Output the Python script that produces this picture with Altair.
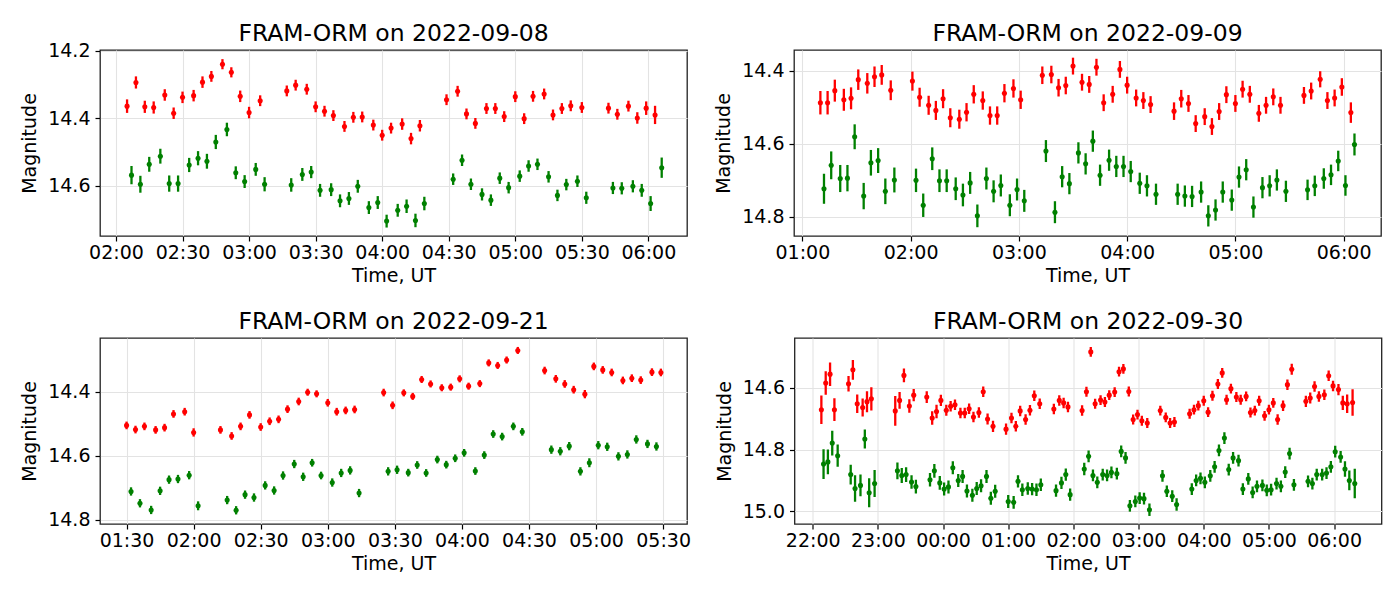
import altair as alt
import pandas as pd

FONT = "DejaVu Sans"
RED = "#ff0000"
GREEN = "#008000"

# ---------------- Panel 1: 2022-09-08 ----------------
p1_red_t = ["02:05","02:09","02:13","02:17","02:22","02:26","02:30","02:35","02:39","02:43","02:48","02:52","02:56","03:00","03:05",
            "03:17","03:21","03:26","03:30","03:34","03:38","03:43","03:47","03:51","03:56","04:00","04:04","04:09","04:13","04:17",
            "04:29","04:34","04:38","04:42","04:47","04:51","04:55","05:00","05:04","05:08","05:13","05:17","05:21","05:25","05:30",
            "05:42","05:46","05:51","05:55","05:59","06:03"]
p1_red_m = [14.364,14.294,14.366,14.368,14.331,14.385,14.338,14.333,14.293,14.276,14.240,14.264,14.335,14.383,14.348,
            14.319,14.302,14.314,14.366,14.379,14.392,14.424,14.397,14.396,14.420,14.450,14.429,14.417,14.460,14.422,
            14.345,14.320,14.387,14.415,14.371,14.371,14.395,14.336,14.401,14.335,14.328,14.390,14.371,14.363,14.368,
            14.370,14.388,14.364,14.399,14.370,14.390]
p1_red_e = [0.020,0.018,0.018,0.018,0.017,0.017,0.017,0.017,0.017,0.016,0.015,0.015,0.017,0.017,0.016,
            0.016,0.016,0.016,0.016,0.016,0.016,0.016,0.016,0.016,0.016,0.016,0.016,0.017,0.017,0.017,
            0.016,0.016,0.016,0.016,0.016,0.016,0.016,0.016,0.016,0.016,0.016,0.016,0.016,0.016,0.016,
            0.016,0.016,0.016,0.017,0.020,0.027]
p1_green_t = ["02:07","02:11","02:15","02:20","02:24","02:28","02:33","02:37","02:41","02:45","02:50","02:54","02:58","03:03","03:07",
              "03:19","03:24","03:28","03:32","03:37","03:41","03:45","03:49","03:54","03:58","04:02","04:07","04:11","04:15","04:19",
              "04:32","04:36","04:40","04:45","04:49","04:53","04:57","05:02","05:06","05:10","05:15","05:19","05:23","05:28","05:32",
              "05:44","05:48","05:53","05:57","06:01","06:06"]
p1_green_m = [14.568,14.595,14.536,14.512,14.593,14.593,14.538,14.518,14.527,14.470,14.433,14.561,14.587,14.551,14.595,
              14.597,14.566,14.559,14.613,14.611,14.644,14.637,14.601,14.664,14.649,14.704,14.672,14.660,14.702,14.652,
              14.580,14.524,14.595,14.625,14.642,14.577,14.605,14.571,14.541,14.536,14.573,14.628,14.596,14.586,14.635,
              14.606,14.607,14.601,14.613,14.652,14.546]
p1_green_e = [0.027,0.025,0.022,0.022,0.024,0.024,0.021,0.021,0.022,0.021,0.020,0.019,0.019,0.019,0.021,
              0.020,0.019,0.018,0.019,0.019,0.019,0.019,0.019,0.019,0.019,0.019,0.019,0.020,0.020,0.020,
              0.017,0.017,0.017,0.018,0.017,0.017,0.017,0.017,0.017,0.017,0.017,0.017,0.017,0.017,0.018,
              0.018,0.018,0.018,0.019,0.022,0.030]

# ---------------- Panel 2: 2022-09-09 ----------------
p2_red_t = ["01:10","01:14","01:18","01:23","01:27","01:31","01:36","01:40","01:44","01:49",
            "02:01","02:05","02:10","02:14","02:18","02:22","02:27","02:31","02:35","02:40","02:44","02:48","02:52","02:57","03:01",
            "03:13","03:18","03:22","03:26","03:30","03:35","03:39","03:43","03:47","03:52","03:56","04:00","04:05","04:09","04:13",
            "04:26","04:30","04:34","04:38","04:43","04:47","04:51","04:55","05:00","05:04","05:08","05:13","05:17","05:21","05:25",
            "05:38","05:42","05:47","05:51","05:55","05:59","06:04"]
p2_red_m = [14.488,14.488,14.455,14.480,14.476,14.425,14.435,14.417,14.412,14.454,
            14.429,14.473,14.495,14.509,14.477,14.529,14.533,14.514,14.465,14.482,14.523,14.523,14.462,14.449,14.480,
            14.413,14.411,14.447,14.441,14.388,14.432,14.438,14.391,14.488,14.465,14.397,14.440,14.475,14.482,14.493,
            14.511,14.477,14.490,14.545,14.526,14.553,14.512,14.466,14.490,14.451,14.465,14.517,14.495,14.472,14.495,
            14.468,14.456,14.424,14.482,14.475,14.445,14.515]
p2_red_e = [0.032,0.032,0.030,0.030,0.030,0.028,0.028,0.028,0.027,0.027,
            0.026,0.026,0.026,0.026,0.026,0.026,0.026,0.025,0.025,0.025,0.025,0.025,0.025,0.025,0.025,
            0.024,0.024,0.024,0.024,0.023,0.023,0.023,0.023,0.023,0.023,0.023,0.023,0.023,0.023,0.023,
            0.024,0.024,0.023,0.023,0.023,0.023,0.023,0.023,0.023,0.023,0.023,0.023,0.023,0.023,0.023,
            0.023,0.023,0.022,0.023,0.023,0.024,0.028]
p2_green_t = ["01:12","01:16","01:21","01:25","01:29","01:34","01:38","01:42","01:46","01:51",
              "02:03","02:07","02:12","02:16","02:20","02:25","02:29","02:33","02:37","02:42","02:46","02:50","02:55","02:59","03:03",
              "03:15","03:20","03:24","03:28","03:33","03:37","03:41","03:45","03:50","03:54","03:58","04:02","04:07","04:11","04:16",
              "04:28","04:32","04:36","04:41","04:45","04:49","04:53","04:58","05:02","05:06","05:10","05:15","05:19","05:23","05:28",
              "05:40","05:44","05:49","05:53","05:57","06:01","06:06"]
p2_green_m = [14.723,14.659,14.695,14.694,14.581,14.743,14.652,14.646,14.730,14.699,
              14.700,14.768,14.641,14.701,14.701,14.723,14.740,14.707,14.797,14.695,14.730,14.714,14.768,14.725,14.756,
              14.620,14.787,14.690,14.709,14.625,14.655,14.593,14.686,14.645,14.662,14.662,14.676,14.708,14.715,14.738,
              14.738,14.743,14.744,14.732,14.797,14.781,14.732,14.754,14.691,14.671,14.773,14.720,14.715,14.699,14.730,
              14.726,14.715,14.695,14.685,14.647,14.714,14.602]
p2_green_e = [0.041,0.038,0.037,0.036,0.034,0.036,0.035,0.034,0.035,0.034,
              0.032,0.032,0.031,0.031,0.031,0.031,0.031,0.030,0.031,0.030,0.030,0.030,0.030,0.030,0.030,
              0.030,0.030,0.029,0.029,0.029,0.029,0.029,0.029,0.029,0.029,0.029,0.029,0.029,0.029,0.029,
              0.029,0.029,0.029,0.029,0.029,0.029,0.029,0.029,0.029,0.029,0.029,0.029,0.029,0.029,0.029,
              0.028,0.028,0.028,0.028,0.028,0.028,0.030]

# ---------------- Panel 3: 2022-09-21 ----------------
p3_red_t = ["01:30","01:34","01:38","01:43","01:47","01:51","01:56","02:00",
            "02:12","02:17","02:21","02:25","02:30","02:34","02:38","02:42","02:47","02:51","02:55","03:00","03:04","03:08","03:12",
            "03:25","03:29","03:34","03:38","03:42","03:46","03:51","03:55","03:59","04:03","04:08","04:12","04:16","04:20","04:25",
            "04:37","04:42","04:46","04:50","04:55","04:59","05:03","05:07","05:12","05:16","05:20","05:25","05:29"]
p3_red_m = [14.505,14.518,14.508,14.519,14.512,14.469,14.462,14.527,
            14.519,14.538,14.508,14.472,14.510,14.492,14.486,14.454,14.430,14.401,14.406,14.434,14.462,14.458,14.455,
            14.402,14.442,14.403,14.414,14.361,14.375,14.387,14.385,14.359,14.382,14.374,14.309,14.317,14.300,14.270,
            14.333,14.359,14.375,14.393,14.407,14.320,14.331,14.339,14.364,14.357,14.363,14.338,14.339]
p3_red_e = [0.012,0.012,0.012,0.012,0.012,0.012,0.012,0.013,
            0.012,0.012,0.012,0.012,0.012,0.012,0.012,0.012,0.012,0.011,0.011,0.012,0.012,0.012,0.012,
            0.012,0.012,0.011,0.011,0.011,0.011,0.011,0.011,0.011,0.011,0.011,0.011,0.011,0.011,0.011,
            0.012,0.012,0.012,0.012,0.013,0.012,0.012,0.012,0.012,0.012,0.012,0.012,0.012]
p3_green_t = ["01:32","01:36","01:41","01:45","01:49","01:53","01:58","02:02",
              "02:15","02:19","02:23","02:27","02:32","02:36","02:40","02:45","02:49","02:53","02:57","03:02","03:06","03:10","03:14",
              "03:27","03:31","03:36","03:40","03:44","03:49","03:53","03:57","04:01","04:06","04:10","04:14","04:18","04:23","04:27",
              "04:40","04:44","04:48","04:53","04:57","05:01","05:05","05:10","05:14","05:18","05:23","05:27"]
p3_green_m = [14.712,14.749,14.770,14.710,14.675,14.673,14.661,14.757,
              14.739,14.771,14.722,14.731,14.693,14.709,14.662,14.626,14.666,14.622,14.662,14.684,14.654,14.646,14.717,
              14.649,14.644,14.653,14.629,14.654,14.612,14.628,14.608,14.591,14.648,14.598,14.532,14.540,14.508,14.525,
              14.581,14.586,14.570,14.649,14.622,14.567,14.572,14.602,14.596,14.549,14.563,14.571]
p3_green_e = [0.013,0.013,0.013,0.013,0.013,0.013,0.013,0.014,
              0.013,0.013,0.013,0.013,0.013,0.013,0.013,0.013,0.013,0.012,0.012,0.013,0.013,0.013,0.013,
              0.013,0.013,0.012,0.012,0.012,0.012,0.012,0.012,0.012,0.012,0.012,0.012,0.012,0.012,0.012,
              0.013,0.013,0.013,0.013,0.014,0.013,0.013,0.013,0.013,0.013,0.013,0.013]

# ---------------- Panel 4: 2022-09-30 ----------------
p4_red_t = ["22:08","22:12","22:16","22:20","22:33","22:37","22:41","22:46","22:50","22:54",
            "23:16","23:20","23:24","23:29","23:33","23:45","23:50","23:54","23:58",
            "00:03","00:07","00:11","00:16","00:20","00:24","00:28","00:33","00:37","00:41","00:46",
            "00:58","01:03","01:07","01:11","01:16","01:20","01:24","01:29",
            "01:42","01:47","01:51","01:55",
            "02:08","02:12","02:16","02:20","02:25","02:29","02:33","02:38","02:42","02:46","02:51","02:55","02:59","03:03","03:08",
            "03:20","03:25","03:29","03:33",
            "03:47","03:51","03:55","04:00","04:04","04:08","04:13","04:17","04:21","04:25","04:30","04:34",
            "04:39","04:43","04:47","04:51","04:56","05:00","05:04","05:08","05:13","05:17","05:21",
            "05:34","05:38","05:42","05:46","05:51","05:55","05:59","06:04","06:08","06:12","06:17"]
p4_red_m = [14.671,14.585,14.556,14.671,14.587,14.542,14.652,14.664,14.645,14.636,
            14.675,14.641,14.560,14.659,14.624,14.630,14.698,14.677,14.641,
            14.673,14.660,14.655,14.682,14.682,14.668,14.695,14.680,14.613,14.701,14.725,
            14.734,14.698,14.725,14.675,14.703,14.673,14.626,14.652,
            14.669,14.641,14.649,14.662,
            14.674,14.613,14.484,14.652,14.640,14.646,14.624,14.614,14.548,14.539,14.612,14.703,14.687,14.707,14.714,
            14.674,14.696,14.714,14.711,
            14.684,14.671,14.658,14.642,14.679,14.626,14.588,14.552,14.639,14.603,14.630,14.639,
            14.628,14.680,14.674,14.642,14.691,14.671,14.649,14.703,14.658,14.590,14.540,
            14.644,14.633,14.596,14.628,14.623,14.561,14.594,14.606,14.649,14.652,14.648]
p4_red_e = [0.046,0.038,0.038,0.037,0.025,0.032,0.030,0.029,0.034,0.038,
            0.048,0.027,0.022,0.022,0.020,0.019,0.022,0.022,0.018,
            0.018,0.017,0.017,0.017,0.017,0.017,0.017,0.017,0.017,0.018,0.018,
            0.018,0.017,0.017,0.017,0.017,0.017,0.017,0.017,
            0.017,0.017,0.017,0.017,
            0.017,0.016,0.016,0.016,0.016,0.016,0.016,0.016,0.016,0.016,0.016,0.016,0.016,0.016,0.016,
            0.016,0.016,0.016,0.016,
            0.016,0.016,0.016,0.016,0.016,0.016,0.016,0.016,0.016,0.016,0.016,0.016,
            0.016,0.016,0.016,0.016,0.016,0.016,0.016,0.017,0.017,0.017,0.018,
            0.018,0.018,0.017,0.017,0.017,0.017,0.017,0.018,0.023,0.030,0.043]
p4_green_t = ["22:10","22:14","22:18","22:23","22:35","22:39","22:44","22:48","22:52","22:57",
              "23:18","23:22","23:26","23:31","23:35","23:48","23:52","23:57",
              "00:01","00:05","00:09","00:14","00:18","00:22","00:27","00:31","00:35","00:40","00:44","00:48",
              "01:00","01:05","01:09","01:13","01:18","01:22","01:26","01:30",
              "01:44","01:49","01:53","01:57",
              "02:10","02:14","02:18","02:22","02:27","02:31","02:35","02:40","02:44","02:48","02:52","02:57","03:01","03:05","03:10",
              "03:22","03:26","03:31","03:35",
              "03:49","03:53","03:57","04:01","04:06","04:10","04:14","04:19","04:23","04:27","04:32",
              "04:36","04:41","04:45","04:49","04:54","04:58","05:02","05:07","05:11","05:15","05:19","05:23",
              "05:36","05:40","05:44","05:49","05:53","05:57","06:01","06:06","06:10","06:14","06:19"]
p4_green_m = [14.847,14.840,14.779,14.820,14.881,14.926,14.916,14.766,14.940,14.910,
              14.869,14.884,14.881,14.905,14.920,14.898,14.869,14.908,
              14.928,14.921,14.859,14.900,14.887,14.934,14.948,14.926,14.917,14.887,14.958,14.935,
              14.968,14.971,14.903,14.930,14.926,14.928,14.930,14.914,
              14.933,14.908,14.881,14.946,
              14.863,14.822,14.884,14.906,14.881,14.884,14.874,14.878,14.806,14.827,14.982,14.968,14.957,14.959,14.995,
              14.885,14.935,14.951,14.978,
              14.928,14.900,14.893,14.906,14.885,14.856,14.803,14.763,14.865,14.827,14.836,
              14.928,14.895,14.939,14.919,14.916,14.932,14.930,14.910,14.919,14.873,14.813,14.914,
              14.903,14.910,14.881,14.881,14.876,14.856,14.807,14.824,14.863,14.900,14.910]
p4_green_e = [0.048,0.040,0.040,0.036,0.032,0.043,0.035,0.031,0.047,0.044,
              0.027,0.024,0.024,0.022,0.022,0.022,0.022,0.022,
              0.021,0.021,0.021,0.021,0.021,0.021,0.021,0.021,0.021,0.021,0.021,0.021,
              0.021,0.021,0.020,0.020,0.020,0.020,0.020,0.020,
              0.020,0.020,0.020,0.020,
              0.020,0.019,0.019,0.019,0.019,0.019,0.019,0.019,0.019,0.019,0.019,0.019,0.019,0.019,0.020,
              0.019,0.019,0.019,0.020,
              0.019,0.019,0.019,0.019,0.019,0.019,0.019,0.019,0.019,0.019,0.019,
              0.019,0.019,0.019,0.019,0.019,0.019,0.019,0.019,0.019,0.019,0.019,0.019,
              0.019,0.019,0.019,0.019,0.019,0.019,0.019,0.019,0.025,0.032,0.048]

W, H = 587, 186


def to_hours(s, wrap):
    h, m = s.split(":")
    v = int(h) + int(m) / 60.0
    if wrap and v < 12:
        v += 24
    return v


LABEL_EXPR = "timeFormat(datetime(2022, 0, 1, 0, round(datum.value * 60)), '%H:%M')"


def panel(title, rt, rm, re, gt, gm, ge, xdom, xticks, ydom, yticks, wrap=False):
    rows = []
    for band, ts, ms, es in (("red", rt, rm, re), ("green", gt, gm, ge)):
        for t, m, e in zip(ts, ms, es):
            rows.append({"t": to_hours(t, wrap), "m": m, "lo": m - e, "hi": m + e, "band": band})
    df = pd.DataFrame(rows)

    xscale = alt.Scale(domain=xdom, nice=False, zero=False)
    xaxis = alt.Axis(values=xticks, labelExpr=LABEL_EXPR, title="Time, UT")
    yscale = alt.Scale(domain=ydom, nice=False, zero=False, reverse=True)
    yaxis = alt.Axis(values=yticks, format=".1f", title="Magnitude")
    color = alt.Color("band:N", scale=alt.Scale(domain=["red", "green"], range=[RED, GREEN]), legend=None)

    base = alt.Chart(df)
    bars = base.mark_rule(strokeWidth=2.3, clip=True).encode(
        x=alt.X("t:Q", scale=xscale, axis=xaxis),
        y=alt.Y("lo:Q", scale=yscale, axis=yaxis),
        y2="hi:Q",
        color=color,
    )
    pts = base.mark_circle(size=26, opacity=1, clip=True).encode(
        x=alt.X("t:Q", scale=xscale, axis=xaxis),
        y=alt.Y("m:Q", scale=yscale, axis=yaxis),
        color=color,
    )
    ttl = alt.Chart(pd.DataFrame({"label": [title]})).mark_text(
        fontSize=23.5, font=FONT, color="black", baseline="alphabetic", align="center",
    ).encode(x=alt.value(W / 2), y=alt.value(-9.5), text="label:N")
    return alt.layer(bars, pts, ttl).properties(width=W, height=H)


p1 = panel("FRAM-ORM on 2022-09-08", p1_red_t, p1_red_m, p1_red_e, p1_green_t, p1_green_m, p1_green_e,
           [1.880, 6.290], [2, 2.5, 3, 3.5, 4, 4.5, 5, 5.5, 6], [14.198, 14.748], [14.2, 14.4, 14.6])
p2 = panel("FRAM-ORM on 2022-09-09", p2_red_t, p2_red_m, p2_red_e, p2_green_t, p2_green_m, p2_green_e,
           [0.923, 6.345], [1, 2, 3, 4, 5, 6], [14.344, 14.852], [14.4, 14.6, 14.8])
p3 = panel("FRAM-ORM on 2022-09-21", p3_red_t, p3_red_m, p3_red_e, p3_green_t, p3_green_m, p3_green_e,
           [1.302, 5.678], [1.5, 2, 2.5, 3, 3.5, 4, 4.5, 5, 5.5], [14.231, 14.814], [14.4, 14.6, 14.8])
p4 = panel("FRAM-ORM on 2022-09-30", p4_red_t, p4_red_m, p4_red_e, p4_green_t, p4_green_m, p4_green_e,
           [21.721, 30.727], [22, 23, 24, 25, 26, 27, 28, 29, 30], [14.439, 15.041], [14.6, 14.8, 15.0], wrap=True)

chart = alt.vconcat(
    alt.hconcat(p1, p2, spacing=26),
    alt.hconcat(p3, p4, spacing=22.5),
    spacing=22,
).properties(
    padding={"left": 12, "top": 12, "right": 5, "bottom": 5},
    background="white",
).configure_view(
    stroke="#222222", strokeWidth=1.3,
).configure_axis(
    labelFont=FONT, titleFont=FONT, labelFontSize=19, titleFontSize=19,
    labelColor="black", titleColor="black", titleFontWeight="normal",
    domain=False, tickColor="black", tickSize=5, tickWidth=1.2,
    grid=True, gridColor="#e3e3e3", gridWidth=1.1,
).configure_axisX(
    labelPadding=2, titlePadding=4,
).configure_axisY(
    titlePadding=8, labelPadding=5,
)

chart.save("out.html", embed_options={"renderer": "svg", "actions": False})
